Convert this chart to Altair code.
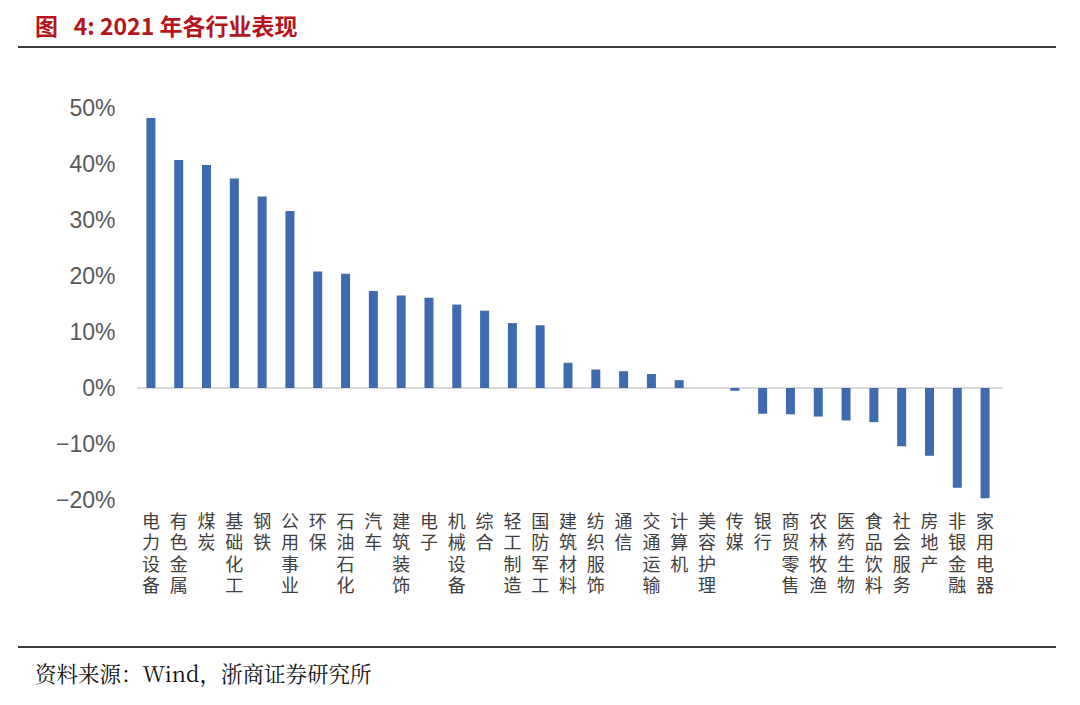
import altair as alt
import pandas as pd

industries = ["电力设备", "有色金属", "煤炭", "基础化工", "钢铁", "公用事业", "环保", "石油石化",
              "汽车", "建筑装饰", "电子", "机械设备", "综合", "轻工制造", "国防军工", "建筑材料",
              "纺织服饰", "通信", "交通运输", "计算机", "美容护理", "传媒", "银行", "商贸零售",
              "农林牧渔", "医药生物", "食品饮料", "社会服务", "房地产", "非银金融", "家用电器"]
returns_pct = [48.2, 40.7, 39.8, 37.4, 34.2, 31.6, 20.8, 20.4,
               17.3, 16.5, 16.1, 14.9, 13.8, 11.6, 11.2, 4.5,
               3.3, 3.0, 2.5, 1.4, 0.0, -0.5, -4.6, -4.7,
               -5.1, -5.8, -6.1, -10.4, -12.1, -17.8, -19.7]
y_ticks = [-0.2, -0.1, 0.0, 0.1, 0.2, 0.3, 0.4, 0.5]

title_text = "图\u00a0\u00a0\u00a04: 2021 年各行业表现"
source_text = "资料来源：Wind，浙商证券研究所"

df = pd.DataFrame({"industry": industries, "ret": [v / 100 for v in returns_pct]})

W, H = 862, 392
LEFT, TOP = 129, 100

bars = alt.Chart(df).mark_bar(size=9, color="#3E6BAF").encode(
    x=alt.X("industry:N", sort=industries, title=None,
            scale=alt.Scale(paddingInner=0, paddingOuter=0),
            axis=alt.Axis(labelExpr="split(datum.label, '')", labelAngle=0,
                          labelBaseline="top", labelAlign="center",
                          labelLineHeight=21.5, labelFontSize=18,
                          labelFont="Noto Sans CJK SC", labelColor="#404040",
                          labelPadding=13, labelOverlap=False, labelBound=False,
                          domain=False, ticks=False, grid=False)),
    y=alt.Y("ret:Q", title=None,
            scale=alt.Scale(domain=[-0.2, 0.5], nice=False, zero=True),
            axis=alt.Axis(format=".0%", values=y_ticks, labelFontSize=23,
                          labelFont="Liberation Sans", labelColor="#595959",
                          labelPadding=22, domain=False, ticks=False, grid=False))
)

zero_rule = alt.Chart(pd.DataFrame({"z": [0.0]})).mark_rule(
    color="#D9D9D9", strokeWidth=2
).encode(y=alt.Y("z:Q"), x=alt.value(0), x2=alt.value(W + 4))

title_mark = alt.Chart(pd.DataFrame({"t": [title_text]})).mark_text(
    align="left", baseline="middle", fontSize=23, fontWeight="bold",
    font="Noto Sans CJK SC", color="#B5141C"
).encode(text="t:N", x=alt.value(35 - 8 - LEFT), y=alt.value(28 - 8 - TOP))

top_line = alt.Chart(pd.DataFrame({"a": [0]})).mark_rule(
    color="#3C3C3C", strokeWidth=2
).encode(x=alt.value(18 - 8 - LEFT), x2=alt.value(1056 - 8 - LEFT), y=alt.value(47 - 8 - TOP))

bottom_line = alt.Chart(pd.DataFrame({"a": [0]})).mark_rule(
    color="#3C3C3C", strokeWidth=2
).encode(x=alt.value(18 - 8 - LEFT), x2=alt.value(1056 - 8 - LEFT), y=alt.value(647 - 8 - TOP))

source_mark = alt.Chart(pd.DataFrame({"t": [source_text]})).mark_text(
    align="left", baseline="middle", fontSize=21.5,
    font="Noto Serif CJK SC, serif", color="#111111"
).encode(text="t:N", x=alt.value(35 - 8 - LEFT), y=alt.value(676 - 8 - TOP))

chart = alt.layer(zero_rule, bars, title_mark, top_line, bottom_line, source_mark).properties(
    width=W, height=H,
    background="white",
    autosize=alt.AutoSizeParams(type="none"),
    padding={"left": LEFT, "top": TOP, "right": 65, "bottom": 189},
).configure_view(stroke=None)

chart.save("out.html", embed_options={"renderer": "svg", "actions": False})
